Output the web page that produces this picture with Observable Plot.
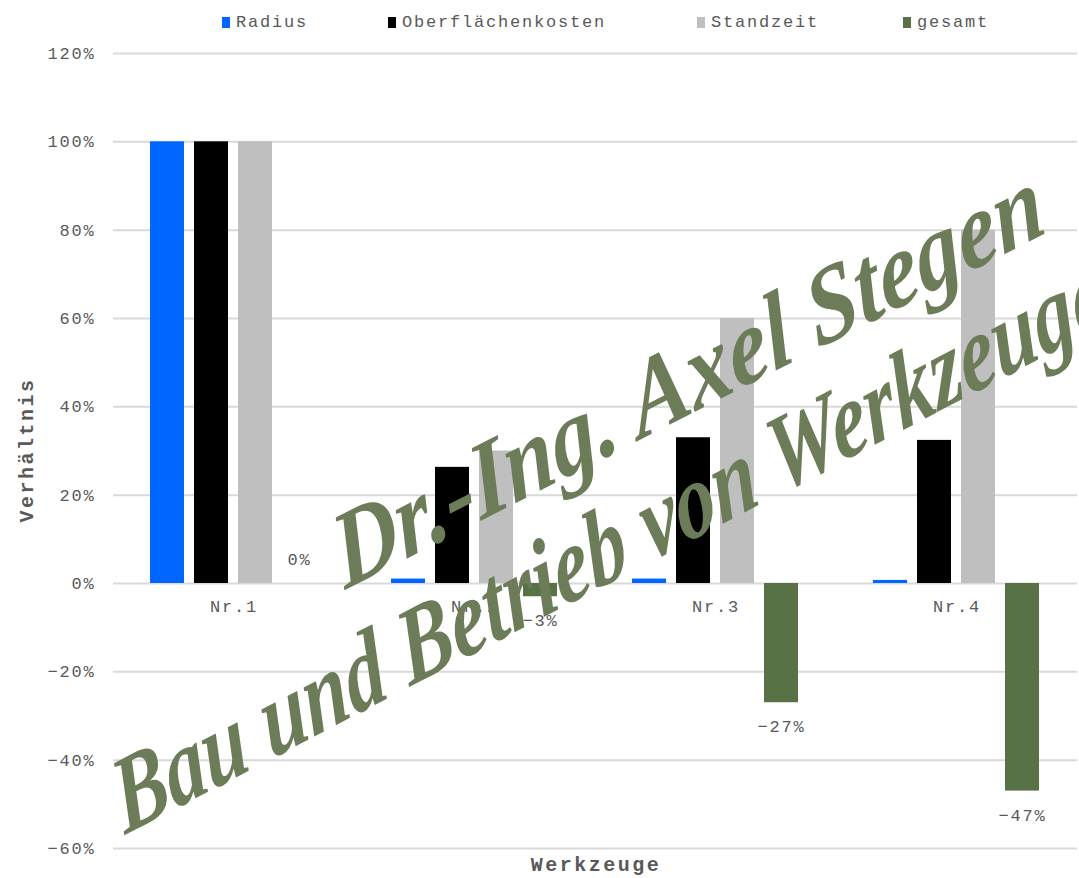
<!DOCTYPE html>
<html>
<head>
<meta charset="utf-8">
<script src="https://cdn.jsdelivr.net/npm/d3@7"></script>
<script src="https://cdn.jsdelivr.net/npm/@observablehq/plot@0.6"></script>
<style>
  body { margin: 0; background: white; }
  #wrap { position: relative; width: 1079px; height: 878px; overflow: hidden; background: white; }
  #legend { position: absolute; top: 0; left: 0; width: 1079px; height: 44px; font-family: "Liberation Mono", monospace; font-size: 17px; letter-spacing: 1.8px; color: #595959; }
  .item { position: absolute; top: 13px; height: 20px; line-height: 20px; white-space: nowrap; }
  .sw { display: inline-block; width: 8px; height: 11px; margin-right: 6px; vertical-align: -1px; }
  #overlay { position: absolute; top: 0; left: 0; pointer-events: none; }
</style>
</head>
<body>
<div id="wrap"></div>
<script>
const categories = ["Nr.1", "Nr.2", "Nr.3", "Nr.4"];
const series = ["Radius", "Oberflächenkosten", "Standzeit", "gesamt"];
const radius = [100, 1, 1, 0.7];
const oberflaechenkosten = [100, 26.3, 33, 32.4];
const standzeit = [100, 30, 60, 80];
const gesamt = [0, -3, -27, -47];
const colors = ["#0066ff", "#000000", "#bfbfbf", "#587245"];
const yTicks = [-60, -40, -20, 0, 20, 40, 60, 80, 100, 120];
const legendLeft = [222, 388, 697, 903];
const yTitle = "Verhältnis";
const xTitle = "Werkzeuge";
const watermark1 = "Dr.-Ing. Axel Stegen";
const watermark2 = "Bau und Betrieb von Werkzeugen";

const seriesValues = [radius, oberflaechenkosten, standzeit, gesamt];
const rows = categories.flatMap((c, i) => series.map((s, j) => ({cat: c, series: s, value: seriesValues[j][i]})));
const gesamtRows = rows.filter(d => d.series === "gesamt");
const fmt = d => (d < 0 ? "\u2212" : "") + Math.abs(Math.round(d)) + "%";

const chart = Plot.plot({
  width: 1079, height: 878,
  marginLeft: 113, marginRight: 2, marginTop: 53, marginBottom: 30,
  style: {fontFamily: "Liberation Mono, monospace", fontSize: "17px", color: "#595959", background: "white", letterSpacing: "1.8px"},
  fx: {domain: categories, padding: 0, axis: null},
  x: {domain: series, paddingInner: 0.227, paddingOuter: 0.852, axis: null},
  y: {domain: [-60, 120], axis: null},
  color: {domain: series, range: colors},
  marks: [
    Plot.gridY(yTicks, {stroke: "#d9d9d9", strokeOpacity: 1, strokeWidth: 2}),
    Plot.axisY(yTicks, {tickSize: 0, tickPadding: 18, tickFormat: fmt, label: null, fill: "#595959"}),
    Plot.barY(rows, {fx: "cat", x: "series", y: "value", fill: "series"}),
    Plot.text(gesamtRows.filter(d => d.value >= 0), {fx: "cat", x: "series", y: "value", text: d => fmt(d.value), dy: -24, fill: "#595959"}),
    Plot.text(gesamtRows.filter(d => d.value < 0), {fx: "cat", x: "series", y: "value", text: d => fmt(d.value), dy: 24, fill: "#595959"}),
    Plot.text(categories, {fx: d => d, y: 0, text: d => d, dy: 23, fill: "#595959"})
  ]
});

const wrap = document.getElementById("wrap");
wrap.appendChild(chart);

const legend = document.createElement("div");
legend.id = "legend";
series.forEach((s, i) => {
  const it = document.createElement("div");
  it.className = "item";
  it.style.left = legendLeft[i] + "px";
  const sw = document.createElement("span");
  sw.className = "sw";
  sw.style.background = colors[i];
  it.appendChild(sw);
  it.appendChild(document.createTextNode(s));
  legend.appendChild(it);
});
wrap.appendChild(legend);

const ns = "http://www.w3.org/2000/svg";
const ov = document.createElementNS(ns, "svg");
ov.setAttribute("id", "overlay");
ov.setAttribute("width", 1079);
ov.setAttribute("height", 878);
function addText(str, attrs) {
  const t = document.createElementNS(ns, "text");
  for (const k in attrs) t.setAttribute(k, attrs[k]);
  t.textContent = str;
  ov.appendChild(t);
  return t;
}
addText(yTitle, {transform: "translate(28,450) rotate(-90)", "text-anchor": "middle", "dominant-baseline": "middle",
  "font-family": "Liberation Mono, monospace", "font-weight": "bold", "font-size": "20px", "letter-spacing": "2.5px", fill: "#595959"});
addText(xTitle, {x: 596, y: 866, "text-anchor": "middle", "dominant-baseline": "middle",
  "font-family": "Liberation Mono, monospace", "font-weight": "bold", "font-size": "20px", "letter-spacing": "2.5px", fill: "#595959"});
addText(watermark1, {transform: "translate(345,590) rotate(-27) skewX(-12)", textLength: 790, lengthAdjust: "spacingAndGlyphs",
  "font-family": "Liberation Serif, serif", "font-style": "italic", "font-weight": "bold", "font-size": "105px", fill: "#6c7c58"});
addText(watermark2, {transform: "translate(125,835) rotate(-27.5) skewX(-12)", textLength: 1160, lengthAdjust: "spacingAndGlyphs",
  "font-family": "Liberation Serif, serif", "font-style": "italic", "font-weight": "bold", "font-size": "105px", fill: "#6c7c58"});
wrap.appendChild(ov);
</script>
</body>
</html>
